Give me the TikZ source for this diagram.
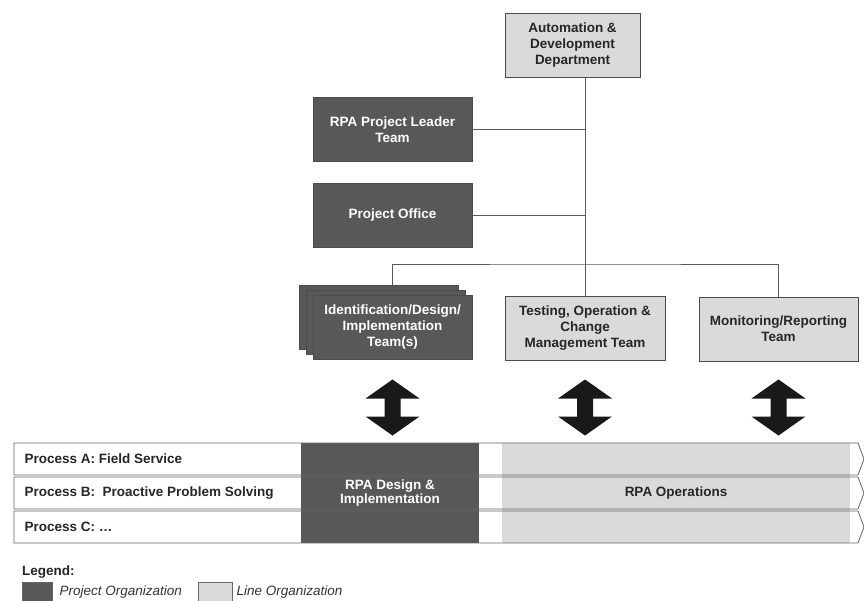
\documentclass[tikz,border=0pt]{standalone}
\usepackage{fontspec}
\setmainfont{Liberation Sans}
\definecolor{darkgrayfill}{HTML}{58585A}
\definecolor{lightgrayfill}{HTML}{DADADC}
\colorlet{ProjectFill}{darkgrayfill}
\colorlet{LineFill}{lightgrayfill}
\colorlet{BoxBorder}{black!70}
\colorlet{ConnectorLine}{black!65}
\colorlet{LineText}{black!85}
\colorlet{ArrowFill}{black!90}
\usetikzlibrary{calc}
\tikzset{
    org box/.style={
        draw=BoxBorder, line width=0.8pt, align=center, inner sep=0pt,
        font=\bfseries\fontsize{13.5}{16}\selectfont,
        minimum width=159pt, minimum height=64pt
    },
    project box/.style={org box, fill=ProjectFill, text=white},
    line box/.style={org box, fill=LineFill, text=LineText},
    connector/.style={draw=ConnectorLine, line width=1pt},
    process row/.style={draw=black!60, line width=0.8pt},
    row label/.style={anchor=west, text=black!85, font=\bfseries\fontsize{13.5}{15}\selectfont},
    legend label/.style={anchor=west, text=black!80, font=\itshape\fontsize{13.5}{15}\selectfont},
    dblarrow/.pic={
        \fill[ArrowFill] (0,-28) -- (27,-9) -- (8,-9) -- (8,9) -- (27,9) -- (0,28)
            -- (-27,9) -- (-8,9) -- (-8,-9) -- (-27,-9) -- cycle;
    }
}

\begin{document}
\begin{tikzpicture}[x=1pt, y=-1pt]

\useasboundingbox (0,0) rectangle (864,600);

% Cajas de la organizacion
\node[line box, minimum width=135pt] (top) at (572.5,45)
    {Automation \&\\Development\\Department};
\node[project box] (leader) at (392.5,129.5) {RPA Project Leader\\Team};
\node[project box] (office) at (392.5,215) {Project Office};

\coordinate (identpos) at (392.5,327.5);
\node[project box] (idback) at ($(identpos)+(-14,-10)$) {};
\node[project box] (idmid) at ($(identpos)+(-7,-5)$) {};
\node[project box] (ident) at (identpos)
    {Identification/Design/\\Implementation\\Team(s)};
\node[line box, minimum width=160pt] (testing) at (585,328.5)
    {Testing, Operation \&\\Change\\Management Team};
\node[line box] (monitor) at (778.5,329) {Monitoring/Reporting\\Team};

% Conectores
\coordinate (bus) at (0,264);
\draw[connector] (top.south -| testing.north) -- (testing.north);
\draw[connector] (leader.east) -- (leader.east -| testing.north);
\draw[connector] (office.east) -- (office.east -| testing.north);
\draw[connector] (ident.north |- idback.north) |- (bus -| testing.north) -| (monitor.north);

% Flechas dobles
\coordinate (arrowrow) at (0,407.5);
\foreach \team in {ident, testing, monitor}
    \pic at (\team.south |- arrowrow) {dblarrow};

% Zonas de proyecto y de linea
\fill[ProjectFill] (301,443) rectangle (479,543);
\fill[LineFill] (502,443) rectangle (850,543);

% Filas de procesos
\foreach \y/\name/\label in {443/procA/{Process A: Field Service},
        477/procB/{Process B:\ \ Proactive Problem Solving},
        511/procC/{Process C: \dots}} {
    \draw[process row] (14,\y) -- (858,\y) -- (864,{\y+16})
        -- (858,{\y+32}) -- (14,{\y+32}) -- cycle;
    \node[row label] (\name) at (21,{\y+16}) {\label};
}

\node[align=center, text=white, font=\bfseries\fontsize{13.5}{12}\selectfont]
    (design) at (390,493) {RPA Design \&\\Implementation};
\node[text=LineText, font=\bfseries\fontsize{13.5}{15}\selectfont]
    (operations) at (676,493) {RPA Operations};

% Leyenda
\node[anchor=west, inner sep=0pt, text=black!85, font=\bfseries\fontsize{13.5}{15}\selectfont]
    (legend) at (22,572) {Legend:};
\filldraw[fill=ProjectFill, draw=black!60] (22,582) rectangle (52,601);
\filldraw[fill=LineFill, draw=black!60] (198,582) rectangle (232,601);
\node[legend label] (projlegend) at (56,592) {Project Organization};
\node[legend label] (linelegend) at (233,592) {Line Organization};

\end{tikzpicture}
\end{document}
